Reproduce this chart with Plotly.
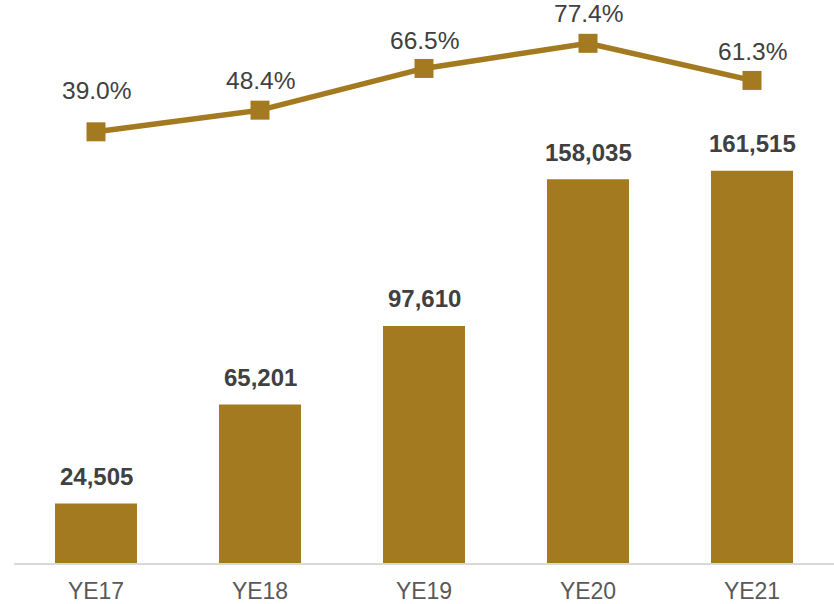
import plotly.graph_objects as go

# Year-end figures
categories = ["YE17", "YE18", "YE19", "YE20", "YE21"]
totals = [24505, 65201, 97610, 158035, 161515]
ratios = [39.0, 48.4, 66.5, 77.4, 61.3]

GOLD = "#A37A20"
DARK = "#404040"
TICK = "#595959"
FONT = "Liberation Sans, Arial, sans-serif"

# vertical offset (px) of each percentage label above its marker
ratio_label_shift = [41, 30, 28, 30, 29]

fig = go.Figure()

fig.add_trace(go.Bar(
    x=categories,
    y=totals,
    marker=dict(color=GOLD, line=dict(width=0)),
    width=0.5,
    yaxis="y",
    hoverinfo="skip",
))

fig.add_trace(go.Scatter(
    x=categories,
    y=ratios,
    mode="lines+markers",
    line=dict(color=GOLD, width=5.5),
    marker=dict(symbol="square", size=19, color=GOLD),
    yaxis="y2",
    hoverinfo="skip",
))

annotations = []
for c, v in zip(categories, totals):
    annotations.append(dict(
        x=c, y=v, xref="x", yref="y",
        text=f"<b>{v:,}</b>", showarrow=False,
        yanchor="middle", yshift=27,
        font=dict(family=FONT, size=24, color=DARK),
    ))
for c, r, s in zip(categories, ratios, ratio_label_shift):
    annotations.append(dict(
        x=c, y=r, xref="x", yref="y2",
        text=f"{r:.1f}%", showarrow=False,
        yanchor="middle", yshift=s,
        font=dict(family=FONT, size=24.5, color=DARK),
    ))

fig.update_layout(
    width=834, height=604,
    margin=dict(l=14, r=0, t=0, b=41),
    paper_bgcolor="white",
    plot_bgcolor="white",
    showlegend=False,
    bargap=0.5,
    xaxis=dict(
        type="category",
        range=[-0.5, 4.5],
        showgrid=False,
        showline=True,
        linecolor="#D9D9D9",
        linewidth=2,
        ticks="",
        ticklabelstandoff=6,
        tickfont=dict(family=FONT, size=23, color=TICK),
        zeroline=False,
    ),
    yaxis=dict(
        range=[0, 231780],
        visible=False,
        showgrid=False,
        zeroline=False,
    ),
    yaxis2=dict(
        range=[-148.1, 96.2],
        overlaying="y",
        visible=False,
        showgrid=False,
        zeroline=False,
    ),
    annotations=annotations,
)

fig.write_html("out.html")
